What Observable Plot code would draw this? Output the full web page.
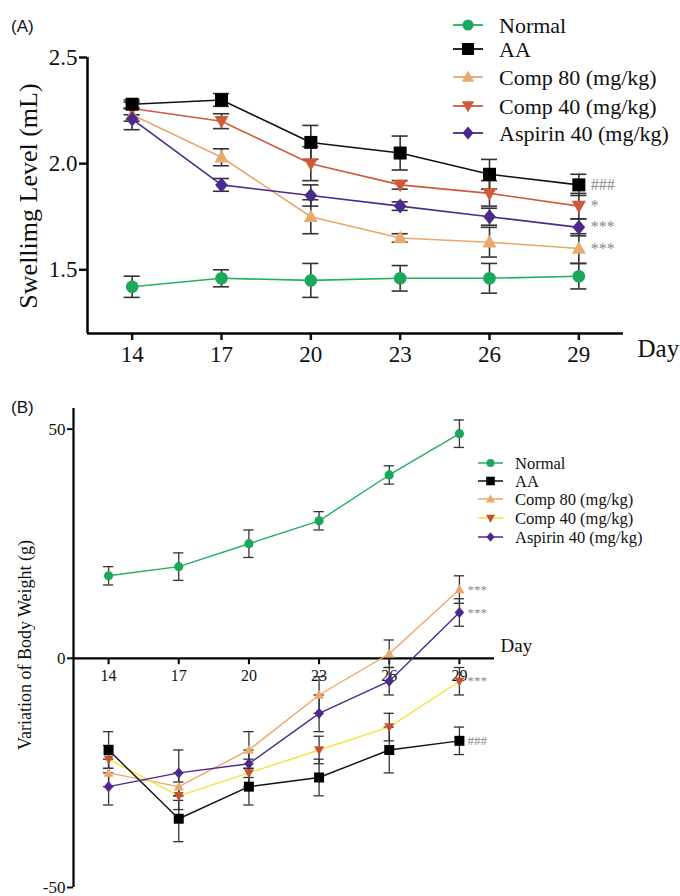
<!DOCTYPE html>
<html>
<head>
<meta charset="utf-8">
<script src="https://cdn.jsdelivr.net/npm/d3@7"></script>
<script src="https://cdn.jsdelivr.net/npm/@observablehq/plot@0.6"></script>
<style>
  html, body { margin: 0; padding: 0; background: #fff; }
  #wrap { position: relative; width: 680px; height: 896px; overflow: hidden; }
  #wrap svg { position: absolute; left: 0; }
</style>
</head>
<body>
<div id="wrap"></div>
<script>
// ---------- data ----------
const days = [14, 17, 20, 23, 26, 29];
const seriesNames = ["Normal", "AA", "Comp 80 (mg/kg)", "Comp 40 (mg/kg)", "Aspirin 40 (mg/kg)"];

// Panel A: swelling level (mL)
const swNormal = [1.42, 1.46, 1.45, 1.46, 1.46, 1.47];
const swNormalErr = [0.05, 0.04, 0.08, 0.06, 0.07, 0.06];
const swAA = [2.28, 2.30, 2.10, 2.05, 1.95, 1.90];
const swAAErr = [0.02, 0.03, 0.08, 0.08, 0.07, 0.05];
const swComp80 = [2.23, 2.03, 1.75, 1.65, 1.63, 1.60];
const swComp80Err = [0.03, 0.04, 0.08, 0.02, 0.07, 0.07];
const swComp40 = [2.26, 2.20, 2.00, 1.90, 1.86, 1.80];
const swComp40Err = [0.03, 0.035, 0.08, 0.02, 0.06, 0.06];
const swAspirin = [2.21, 1.90, 1.85, 1.80, 1.75, 1.70];
const swAspirinErr = [0.05, 0.03, 0.05, 0.02, 0.04, 0.04];
const swTicks = [1.5, 2.0, 2.5];
const swSig = ["", "###", "***", "*", "***"];

// Panel B: variation of body weight (g)
const bwNormal = [18, 20, 25, 30, 40, 49];
const bwNormalErr = [2, 3, 3, 2, 2, 3];
const bwAA = [-20, -35, -28, -26, -20, -18];
const bwAAErr = [4, 5, 4, 4, 5, 3];
const bwComp80 = [-25, -28, -20, -8, 1, 15];
const bwComp80Err = [3, 3, 4, 4, 3, 3];
const bwComp40 = [-22, -30, -25, -20, -15, -5];
const bwComp40Err = [3, 3, 3, 3, 3, 3];
const bwAspirin = [-28, -25, -23, -12, -5, 10];
const bwAspirinErr = [4, 5, 3, 4, 3, 3];
const bwTicks = [-50, 0, 50];
const bwSig = ["", "###", "***", "***", "***"];

// ---------- styles ----------
const serif = "'Liberation Serif', 'Times New Roman', serif";
const lineColorsA = ["#22b063", "#111111", "#e9a86c", "#cf5a3b", "#4b2a8c"];
const markColorsA = ["#1aa85a", "#000000", "#e9a86c", "#cf5a3b", "#4b2a8c"];
const lineColorsB = ["#22b063", "#111111", "#e9a86c", "#f2e43a", "#4b2a8c"];
const markColorsB = ["#1aa85a", "#000000", "#e9a86c", "#c8502c", "#4b2a8c"];

function rad(size) { return Math.sqrt(size / Math.PI); }
const symSquare = { draw(c, s) { const r = rad(s); c.rect(-r, -r, 2 * r, 2 * r); } };
const symTriUp = { draw(c, s) { const r = rad(s); c.moveTo(0, -r * 1.05); c.lineTo(r, r * 0.75); c.lineTo(-r, r * 0.75); c.closePath(); } };
const symTriDown = { draw(c, s) { const r = rad(s); c.moveTo(0, r * 1.05); c.lineTo(r, -r * 0.75); c.lineTo(-r, -r * 0.75); c.closePath(); } };
const symDiamond = { draw(c, s) { const r = rad(s); c.moveTo(0, -r); c.lineTo(r * 0.85, 0); c.lineTo(0, r); c.lineTo(-r * 0.85, 0); c.closePath(); } };
const symCircle = { draw(c, s) { const r = rad(s); c.moveTo(r, 0); c.arc(0, 0, r, 0, 2 * Math.PI); } };
const symbols = [symCircle, symSquare, symTriUp, symTriDown, symDiamond];

function rows(vals, errs) { return days.map((d, i) => ({ day: d, v: vals[i], e: errs[i] })); }

const dataA = [rows(swNormal, swNormalErr), rows(swAA, swAAErr), rows(swComp80, swComp80Err), rows(swComp40, swComp40Err), rows(swAspirin, swAspirinErr)];
const dataB = [rows(bwNormal, bwNormalErr), rows(bwAA, bwAAErr), rows(bwComp80, bwComp80Err), rows(bwComp40, bwComp40Err), rows(bwAspirin, bwAspirinErr)];
const drawOrder = [0, 2, 3, 1, 4];

function seriesMarks(data, lineColors, markColors, opt) {
  const m = [];
  for (const k of drawOrder) {
    const d = data[k];
    m.push(Plot.ruleX(d, { x: "day", y1: r => r.v - r.e, y2: r => r.v + r.e, stroke: "#333", strokeWidth: opt.ew }));
    m.push(Plot.ruleY(d, { y: r => r.v + r.e, x1: r => r.day - opt.cap, x2: r => r.day + opt.cap, stroke: "#333", strokeWidth: opt.ew }));
    m.push(Plot.ruleY(d, { y: r => r.v - r.e, x1: r => r.day - opt.cap, x2: r => r.day + opt.cap, stroke: "#333", strokeWidth: opt.ew }));
  }
  for (const k of drawOrder) {
    m.push(Plot.line(data[k], { x: "day", y: "v", stroke: lineColors[k], strokeWidth: opt.lw }));
  }
  for (const k of drawOrder) {
    m.push(Plot.dot(data[k], { x: "day", y: "v", symbol: symbols[k], r: opt.r[k], fill: markColors[k], stroke: "none" }));
  }
  return m;
}

function sigMarks(data, sig, opt) {
  const m = [];
  data.forEach((d, k) => {
    if (!sig[k]) return;
    const last = d[d.length - 1];
    m.push(Plot.text([last], { x: "day", y: "v", text: () => sig[k], dx: opt.dx, dy: opt.dy || 0, textAnchor: "start", fontSize: opt.fs, fill: "#8a8a8a", fontFamily: serif }));
  });
  return m;
}

// ---------- Panel A ----------
const plotA = Plot.plot({
  width: 680, height: 390,
  marginLeft: 87, marginRight: 57, marginTop: 57, marginBottom: 57,
  x: { domain: [12.5, 30.5] },
  y: { domain: [1.2, 2.5] },
  style: { fontFamily: serif, background: "transparent", overflow: "visible", color: "#111" },
  marks: [
    Plot.axisY({ ticks: swTicks, tickFormat: d3.format(".1f"), tickSize: 8, tickPadding: 2, strokeWidth: 2.5, fontSize: 23, label: null }),
    Plot.axisX({ ticks: days, tickSize: 7, tickPadding: 5, strokeWidth: 2.5, fontSize: 23, label: null }),
    Plot.ruleX([12.5], { stroke: "#000", strokeWidth: 2.5 }),
    Plot.ruleY([1.2], { stroke: "#000", strokeWidth: 2.5 }),
    ...seriesMarks(dataA, lineColorsA, markColorsA, { ew: 1.6, lw: 1.6, cap: 0.27, r: [6.3, 6.5, 7, 7, 7.5] }),
    ...sigMarks(dataA, swSig, { dx: 12, fs: 16 }),
    Plot.text(["Day"], { x: 30.5, y: 1.2, text: d => d, dx: 14, dy: 15, textAnchor: "start", fontSize: 25, fontFamily: serif, fill: "#111" })
  ]
});
plotA.style.top = "0px";

// ---------- Panel B ----------
const plotB = Plot.plot({
  width: 680, height: 506,
  marginLeft: 73, marginRight: 186, marginTop: 18, marginBottom: 9,
  x: { domain: [12.5, 30.5], axis: null },
  y: { domain: [-50, 54.5] },
  style: { fontFamily: serif, background: "transparent", overflow: "visible", color: "#111" },
  marks: [
    Plot.axisY({ ticks: bwTicks, tickFormat: d => String(d), tickSize: 6, tickPadding: 2, strokeWidth: 2, fontSize: 17, label: null }),
    Plot.ruleX([12.5], { stroke: "#000", strokeWidth: 2.2 }),
    Plot.ruleY([0], { stroke: "#000", strokeWidth: 2.2 }),
    Plot.ruleX(days, { x: d => d, y1: 0, y2: -1.4, stroke: "#000", strokeWidth: 2 }),
    Plot.text(days, { x: d => d, y: 0, text: d => String(d), dy: 18, fontSize: 16, fontFamily: serif, fill: "#111" }),
    ...seriesMarks(dataB, lineColorsB, markColorsB, { ew: 1.3, lw: 1.4, cap: 0.22, r: [4.6, 5, 5, 5, 5.6] }),
    ...sigMarks(dataB, bwSig, { dx: 8, fs: 13 }),
    Plot.text(["Day"], { x: 30.5, y: 0, text: d => d, dx: 6, dy: -12, textAnchor: "start", fontSize: 19, fontFamily: serif, fill: "#111" })
  ]
});
plotB.style.top = "390px";

const wrap = document.getElementById("wrap");
wrap.appendChild(plotA);
wrap.appendChild(plotB);

// ---------- overlay: panel labels, y labels, legends ----------
const ov = d3.create("svg").attr("width", 680).attr("height", 896).style("top", "0px").style("pointer-events", "none");
ov.append("text").attr("x", 11).attr("y", 32).attr("font-family", "'Liberation Sans', Arial, sans-serif").attr("font-size", 17).attr("fill", "#111").text("(A)");
ov.append("text").attr("x", 11).attr("y", 413).attr("font-family", "'Liberation Sans', Arial, sans-serif").attr("font-size", 17).attr("fill", "#111").text("(B)");

ov.append("text").attr("transform", "translate(37,196) rotate(-90)").attr("text-anchor", "middle")
  .attr("font-family", serif).attr("font-size", 26).attr("fill", "#111").text("Swellimg Level (mL)");
ov.append("text").attr("transform", "translate(31,645) rotate(-90)").attr("text-anchor", "middle")
  .attr("font-family", serif).attr("font-size", 18).attr("fill", "#111").text("Variation of Body Weight (g)");

function legend(g, opt) {
  seriesNames.forEach((name, k) => {
    const y = opt.ys[k];
    g.append("line").attr("x1", opt.x0).attr("x2", opt.x1).attr("y1", y).attr("y2", y)
      .attr("stroke", opt.lines[k]).attr("stroke-width", opt.lw);
    const r = opt.r[k];
    g.append("path").attr("d", d3.symbol(symbols[k], r * r * Math.PI)())
      .attr("transform", `translate(${(opt.x0 + opt.x1) / 2},${y})`).attr("fill", opt.marks[k]);
    g.append("text").attr("x", opt.tx).attr("y", y).attr("dy", "0.35em")
      .attr("font-family", serif).attr("font-size", opt.fs).attr("fill", "#111").text(name);
  });
}
legend(ov.append("g"), { x0: 453, x1: 483, tx: 499, ys: [25, 49, 77, 106, 133], lw: 1.8, fs: 22,
  r: [5.5, 6, 6.2, 6.2, 6.5], lines: lineColorsA, marks: markColorsA });
legend(ov.append("g"), { x0: 478, x1: 503, tx: 515, ys: [463, 481, 499, 518, 537], lw: 1.5, fs: 16.5,
  r: [4, 4.3, 4.5, 4.5, 4.8], lines: lineColorsB, marks: markColorsB });

wrap.appendChild(ov.node());
</script>
</body>
</html>
